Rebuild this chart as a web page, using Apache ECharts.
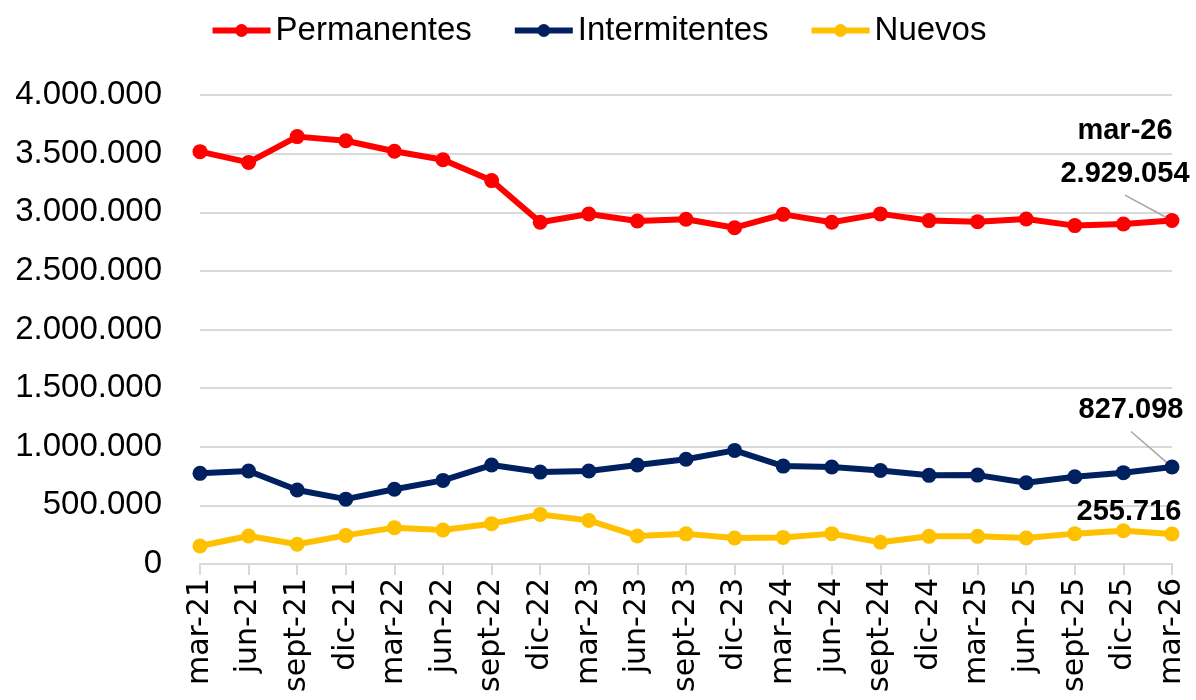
<!DOCTYPE html>
<html>
<head>
<meta charset="utf-8">
<script src="https://cdn.jsdelivr.net/npm/echarts@6/dist/echarts.min.js"></script>
<style>
  html, body { margin: 0; padding: 0; background: #ffffff; }
  #chart { width: 1196px; height: 700px; }
</style>
</head>
<body>
<div id="chart"></div>
<script>
// trimestres
const categories = [
  'mar-21', 'jun-21', 'sept-21', 'dic-21',
  'mar-22', 'jun-22', 'sept-22', 'dic-22',
  'mar-23', 'jun-23', 'sept-23', 'dic-23',
  'mar-24', 'jun-24', 'sept-24', 'dic-24',
  'mar-25', 'jun-25', 'sept-25', 'dic-25',
  'mar-26'
];

const permanentes = [
  3517000, 3425000, 3645000, 3610000,
  3520000, 3448000, 3270000, 2915000,
  2985000, 2925000, 2940000, 2868000,
  2982000, 2915000, 2986000, 2929000,
  2920000, 2942000, 2886000, 2900000,
  2929054
];

const intermitentes = [
  773000, 793000, 631000, 553000,
  637000, 713000, 844000, 784000,
  793000, 844000, 893000, 969000,
  835000, 827000, 798000, 756000,
  758000, 693000, 744000, 779000,
  827098
];

const nuevos = [
  154000, 239000, 168000, 244000,
  310000, 290000, 344000, 423000,
  372000, 239000, 257000, 222000,
  227000, 259000, 185000, 236000,
  236000, 222000, 259000, 284000,
  255716
];

const yTicks = [0, 500000, 1000000, 1500000, 2000000, 2500000, 3000000, 3500000, 4000000];

const colors = {
  Permanentes: '#FF0000',
  Intermitentes: '#002060',
  Nuevos: '#FFC000'
};

const last = categories.length - 1;

function fmt(v) {
  return String(v).replace(/\B(?=(\d{3})+(?!\d))/g, '.');
}

// solo la última etiqueta lleva valor
function withLastLabel(values, formatter) {
  return values.map((v, i) => i === last ? {
    value: v,
    label: { show: true, formatter: formatter }
  } : v);
}

function makeSeries(name, values, formatter, offset, showLine) {
  return {
    name: name,
    type: 'line',
    data: withLastLabel(values, formatter),
    symbol: 'circle',
    symbolSize: 15,
    lineStyle: { width: 6, color: colors[name] },
    itemStyle: { color: colors[name] },
    label: {
      show: false,
      position: 'top',
      color: '#000000',
      fontFamily: 'Liberation Sans',
      fontWeight: 'bold',
      fontSize: 29,
      lineHeight: 43
    },
    labelLine: {
      show: showLine,
      lineStyle: { color: '#a6a6a6', width: 1.5 }
    },
    labelLayout: function (params) {
      if (params.dataIndex !== last) return {};
      return { dx: offset[0], dy: offset[1] };
    },
    emphasis: { disabled: true },
    animation: false
  };
}

const chart = echarts.init(document.getElementById('chart'), null, { renderer: 'canvas' });

chart.setOption({
  backgroundColor: '#ffffff',
  legend: {
    top: 9,
    left: 'center',
    itemWidth: 58,
    itemHeight: 16,
    itemGap: 40,
    lineStyle: { width: 6 },
    textStyle: {
      fontFamily: 'Liberation Sans',
      fontSize: 33,
      color: '#000000'
    },
    data: ['Permanentes', 'Intermitentes', 'Nuevos']
  },
  grid: {
    left: 200,
    right: 24,
    top: 95,
    bottom: 136
  },
  xAxis: {
    type: 'category',
    data: categories,
    boundaryGap: false,
    axisLine: { lineStyle: { color: '#d9d9d9', width: 2 } },
    axisTick: { show: true, length: 11, alignWithLabel: true, lineStyle: { color: '#d9d9d9', width: 2 } },
    axisLabel: {
      rotate: 90,
      interval: 0,
      margin: 14,
      fontFamily: 'DejaVu Sans',
      fontSize: 30,
      color: '#000000'
    }
  },
  yAxis: {
    type: 'value',
    min: yTicks[0],
    max: yTicks[yTicks.length - 1],
    interval: yTicks[1] - yTicks[0],
    axisLine: { show: false },
    axisTick: { show: false },
    splitLine: { lineStyle: { color: '#d9d9d9', width: 2 } },
    axisLabel: {
      margin: 38,
      fontFamily: 'Liberation Sans',
      fontSize: 33,
      color: '#000000',
      formatter: fmt
    }
  },
  series: [
    makeSeries('Permanentes', permanentes,
      () => categories[last] + '\n' + fmt(permanentes[last]), [-47, -13], true),
    makeSeries('Intermitentes', intermitentes,
      () => fmt(intermitentes[last]), [-41, -23], true),
    makeSeries('Nuevos', nuevos,
      () => fmt(nuevos[last]), [-43, 12], false)
  ]
});
</script>
</body>
</html>
